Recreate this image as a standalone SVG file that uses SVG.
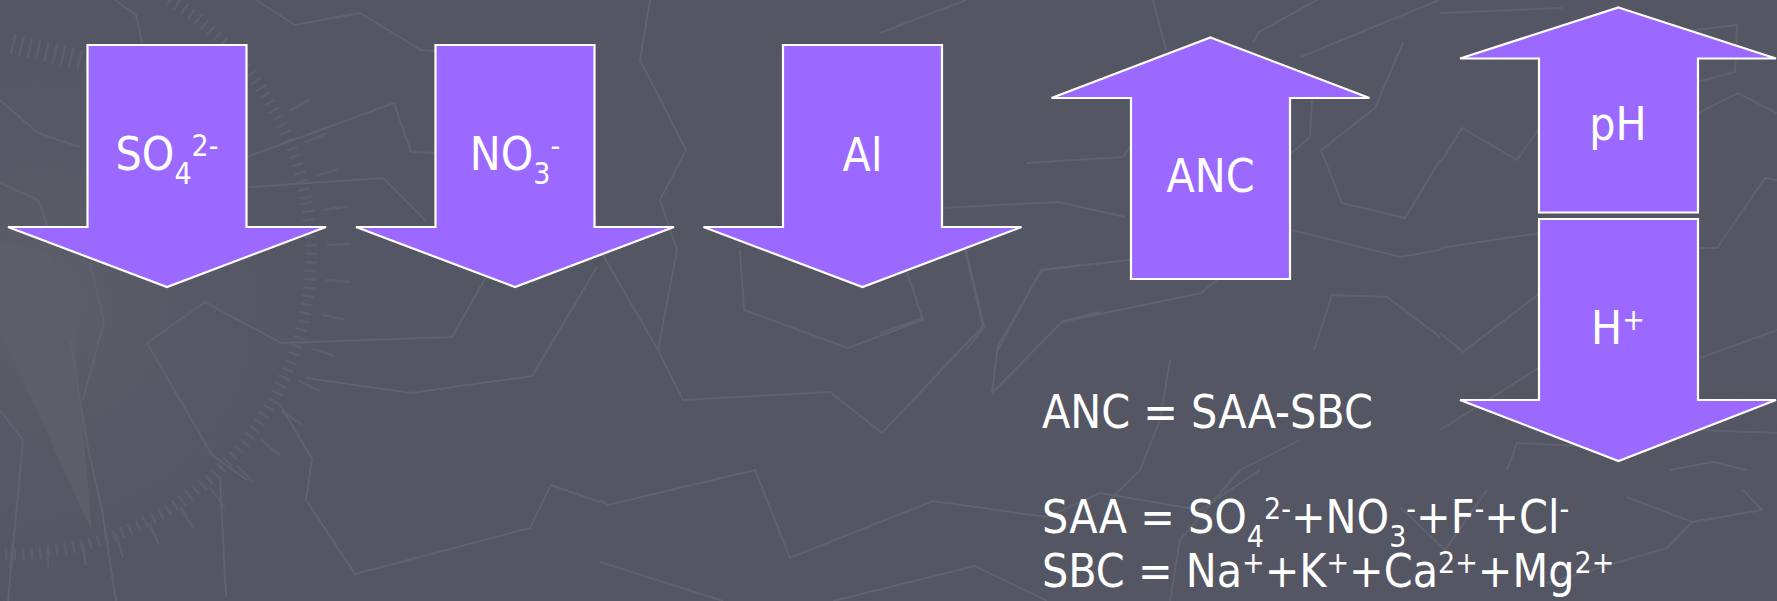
<svg xmlns="http://www.w3.org/2000/svg" width="1777" height="601" viewBox="0 0 1777 601">
<defs>
<style>
.bgl{fill:none;stroke:#60636f;stroke-width:2;stroke-linejoin:miter}
.arr{fill:#9b69ff;stroke:#ffffff;stroke-width:2.2;stroke-linejoin:miter}
.t{fill:#ffffff;font-family:"DejaVu Sans Condensed","DejaVu Sans",sans-serif;font-stretch:condensed;font-size:46px}
.c{text-anchor:middle}
.s{font-size:30px}
</style>
<radialGradient id="glow" cx="40" cy="300" r="330" gradientUnits="userSpaceOnUse">
<stop offset="0" stop-color="#5e606c" stop-opacity="0.9"/>
<stop offset="1" stop-color="#545663" stop-opacity="0"/>
</radialGradient>
</defs>
<rect width="1777" height="601" fill="#545663"/>
<g id="background">
<rect width="600" height="601" fill="url(#glow)"/>
<polygon points="0,240 48,252 72,300 92,532 0,330" fill="#5c5e6a"/>
<circle cx="11" cy="254" r="300" fill="none" stroke="#5d606c" stroke-width="12" stroke-dasharray="2.5 6" transform="rotate(-10 11 254)" stroke-dashoffset="0"/>
<path d="M 10,556 A 302 302 0 0 0 290,90" fill="none" stroke="#5d606c" stroke-width="24" stroke-dasharray="2.5 34"/>
<path d="M 12,44 L 90,62" fill="none" stroke="#5d606c" stroke-width="20" stroke-dasharray="2.5 6"/>
<polyline class="bgl" points="147,343 205,302 281,343 452,337 486,277 500,250"/>
<polyline class="bgl" points="147,343 212,455 247,480"/>
<polyline class="bgl" points="306,378 411,393 532,376 597,267"/>
<polyline class="bgl" points="279,403 312,459 306,500 355,574 530,528 551,485 600,502"/>
<polyline class="bgl" points="220,477 226,597"/>
<polyline class="bgl" points="70,340 88,448 102,510 116,601"/>
<polyline class="bgl" points="0,410 23,440 8,601"/>
<polyline class="bgl" points="83,400 104,322 90,262"/>
<polyline class="bgl" points="115,0 136,15 142,43"/>
<polyline class="bgl" points="256,0 295,25 360,13 421,50 505,57"/>
<polyline class="bgl" points="0,100 38,133 80,147"/>
<polyline class="bgl" points="249,187 383,178 425,220"/>
<polyline class="bgl" points="247,157 394,103 411,152 436,153"/>
<polyline class="bgl" points="509,53 563,90 586,173 600,250 658,350"/>
<polyline class="bgl" points="0,183 38,200 50,233"/>
<polyline class="bgl" points="658,350 677,250 660,200 686,150 640,60 650,0"/>
<polyline class="bgl" points="658,350 683,400 830,392 882,433 983,326 965,250"/>
<polyline class="bgl" points="740,250 744,310 848,348 923,320 907,272"/>
<polyline class="bgl" points="992,393 998,345 1042,270 1100,263"/>
<polyline class="bgl" points="992,393 1063,321 1100,312"/>
<polyline class="bgl" points="600,500 608,505 755,470 790,558 933,501 1047,517 1100,493"/>
<polyline class="bgl" points="600,562 723,601"/>
<polyline class="bgl" points="833,601 975,566 1047,601"/>
<polyline class="bgl" points="1153,0 1166,50"/>
<polyline class="bgl" points="1253,43 1259,32 1317,0"/>
<polyline class="bgl" points="1301,57 1439,0"/>
<polyline class="bgl" points="1403,43 1375,108 1321,150 1342,203 1405,218 1440,160"/>
<polyline class="bgl" points="1312,100 1310,137 1287,157"/>
<polyline class="bgl" points="1026,163 1123,157 1130,147"/>
<polyline class="bgl" points="941,208 1059,202 1125,217"/>
<polyline class="bgl" points="1291,230 1401,257 1440,250"/>
<polyline class="bgl" points="998,350 1041,270 1130,260"/>
<polyline class="bgl" points="1062,322 1201,293 1217,280"/>
<polyline class="bgl" points="1314,350 1332,295 1387,297 1440,337"/>
<polyline class="bgl" points="966,250 984,327 966,350"/>
<polyline class="bgl" points="923,318 880,333"/>
<polyline class="bgl" points="880,33 966,0"/>
<polyline class="bgl" points="1440,13 1562,8"/>
<polyline class="bgl" points="1670,33 1737,25 1735,72 1697,82"/>
<polyline class="bgl" points="1440,163 1462,128 1517,160 1540,127"/>
<polyline class="bgl" points="1440,248 1540,233"/>
<polyline class="bgl" points="1698,113 1738,93 1777,113"/>
<polyline class="bgl" points="1700,248 1717,248 1765,178 1777,180"/>
<polyline class="bgl" points="1440,333 1463,352 1540,293"/>
<polyline class="bgl" points="1700,358 1777,330"/>
<polyline class="bgl" points="1440,430 1540,367"/>
<polyline class="bgl" points="1777,433 1700,430"/>
<polyline class="bgl" points="1507,470 1517,443 1620,448"/>
<polyline class="bgl" points="1670,470 1713,462 1747,470"/>
<polyline class="bgl" points="1627,497 1692,522 1762,510 1743,490"/>
<polyline class="bgl" points="1547,583 1667,548 1692,522"/>
<polyline class="bgl" points="1400,507 1445,550 1487,490"/>
<polyline class="bgl" points="1170,601 1180,540 1240,470 1300,440"/>
<polyline class="bgl" points="1100,493 1200,510 1260,470"/>
<polyline class="bgl" points="1170,360 1160,420 1140,470 1110,500"/>
</g>
<g id="arrow-so4">
<polygon class="arr" points="87.5,45 246.5,45 246.5,227 326,227 167,287 8,227 87.5,227"/>
<text class="t c" x="167" y="170">SO<tspan class="s" dy="14">4</tspan><tspan class="s" dy="-28">2-</tspan></text>
</g>
<g id="arrow-no3">
<polygon class="arr" points="435.5,45 594.5,45 594.5,227 674,227 515,287 356,227 435.5,227"/>
<text class="t c" x="515" y="170">NO<tspan class="s" dy="14">3</tspan><tspan class="s" dy="-28">-</tspan></text>
</g>
<g id="arrow-al">
<polygon class="arr" points="783,45 942,45 942,227 1021.5,227 862.5,287 703.5,227 783,227"/>
<text class="t c" x="862.5" y="171">Al</text>
</g>
<g id="arrow-anc">
<polygon class="arr" points="1210.5,37.5 1369.5,98 1290,98 1290,279 1131,279 1131,98 1051.5,98"/>
<text class="t c" x="1210.5" y="192">ANC</text>
</g>
<g id="arrow-ph">
<polygon class="arr" points="1618.5,7.5 1776,58.5 1698,58.5 1698,212.5 1539,212.5 1539,58.5 1460,58.5"/>
<text class="t c" x="1618" y="140">pH</text>
</g>
<g id="arrow-h">
<polygon class="arr" points="1539,219 1698,219 1698,400 1776,400 1618.5,461 1460,400 1539,400"/>
<text class="t c" x="1618" y="344">H<tspan class="s" dy="-14">+</tspan></text>
</g>
<g id="formulas">
<text class="t" x="1042" y="428">ANC = SAA-SBC</text>
<text class="t" x="1042" y="533">SAA = SO<tspan class="s" dy="14">4</tspan><tspan class="s" dy="-28">2-</tspan><tspan dy="14">+NO</tspan><tspan class="s" dy="14">3</tspan><tspan class="s" dy="-28">-</tspan><tspan dy="14">+F</tspan><tspan class="s" dy="-14">-</tspan><tspan dy="14">+Cl</tspan><tspan class="s" dy="-14">-</tspan></text>
<text class="t" x="1042" y="587">SBC = Na<tspan class="s" dy="-14">+</tspan><tspan dy="14">+K</tspan><tspan class="s" dy="-14">+</tspan><tspan dy="14">+Ca</tspan><tspan class="s" dy="-14">2+</tspan><tspan dy="14">+Mg</tspan><tspan class="s" dy="-14">2+</tspan></text>
</g>
<g id="connectors"/>
</svg>
